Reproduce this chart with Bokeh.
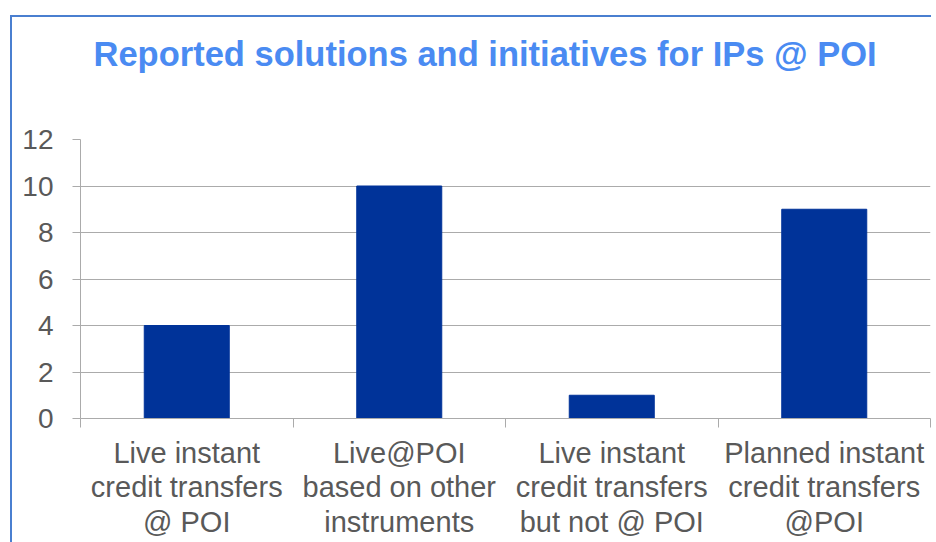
from bokeh.plotting import figure
from bokeh.models import Range1d, FixedTicker, LinearAxis, Title, InlineStyleSheet
from bokeh.embed import file_html
from bokeh.resources import INLINE

title_text = "Reported solutions and initiatives for IPs @ POI"
categories = [
    "Live instant\ncredit transfers\n@ POI",
    "Live@POI\nbased on other\ninstruments",
    "Live instant\ncredit transfers\nbut not @ POI",
    "Planned instant\ncredit transfers\n@POI",
]
counts = [4, 10, 1, 9]
y_ticks = [0, 2, 4, 6, 8, 10, 12]

n = len(categories)
centers = [i + 0.5 for i in range(n)]
bounds = [float(i) for i in range(n + 1)]

W, H = 931, 542
border_blue = "#4A7FD0"
p = figure(width=W, height=H, output_backend="svg", toolbar_location=None, title=None,
           x_range=Range1d(0, n), y_range=Range1d(0, 12),
           x_axis_location=None, y_axis_location=None,
           min_border_left=80, min_border_right=1, min_border_top=139, min_border_bottom=124)
p.stylesheets = [InlineStyleSheet(css=(
    ":host { background: "
    f"linear-gradient({border_blue}, {border_blue}) 10px 15px / 2px 600px no-repeat, "
    f"linear-gradient({border_blue}, {border_blue}) 10px 15px / 1000px 2px no-repeat, #ffffff; }}"
))]
p.outline_line_color = None
p.background_fill_color = "white"
p.border_fill_color = None
p.xgrid.visible = False

font = "Liberation Sans"
grey_text = "#595959"
axis_grey = "#ABABAB"

# spacer between chart title and plot area, then the title itself
p.add_layout(Title(text=" ", text_font_size="10px", standoff=54), "above")
p.add_layout(Title(text=title_text, text_font=font, text_font_style="bold",
                   text_font_size="34.5px", text_color="#4A8BF2", align="left",
                   offset=13, standoff=0), "above")

# y axis
yaxis = LinearAxis(ticker=FixedTicker(ticks=y_ticks))
yaxis.axis_line_color = axis_grey
yaxis.major_tick_line_color = axis_grey
yaxis.major_tick_out = 8
yaxis.major_tick_in = 0
yaxis.minor_tick_line_color = None
yaxis.major_label_text_font = font
yaxis.major_label_text_font_size = "28px"
yaxis.major_label_text_color = grey_text
yaxis.major_label_standoff = 19
p.add_layout(yaxis, "left")

# x axis: labels at category centers, boundary ticks as minor ticks
xaxis = LinearAxis(ticker=FixedTicker(ticks=centers, minor_ticks=bounds))
xaxis.major_label_overrides = {c: lab for c, lab in zip(centers, categories)}
xaxis.axis_line_color = axis_grey
xaxis.major_tick_line_color = None
xaxis.major_tick_out = 9
xaxis.major_tick_in = 0
xaxis.minor_tick_line_color = axis_grey
xaxis.minor_tick_out = 9
xaxis.minor_tick_in = 0
xaxis.major_label_text_font = font
xaxis.major_label_text_font_size = "29px"
xaxis.major_label_text_color = grey_text
xaxis.major_label_text_line_height = 1.08
xaxis.major_label_standoff = 9
p.add_layout(xaxis, "below")

p.ygrid.ticker = FixedTicker(ticks=y_ticks)
p.ygrid.grid_line_color = axis_grey
p.ygrid.grid_line_width = 1

p.vbar(x=centers, top=counts, width=0.4, bottom=0, fill_color="#003399", line_color="#003399")

open("out.html", "w").write(file_html(p, INLINE))
